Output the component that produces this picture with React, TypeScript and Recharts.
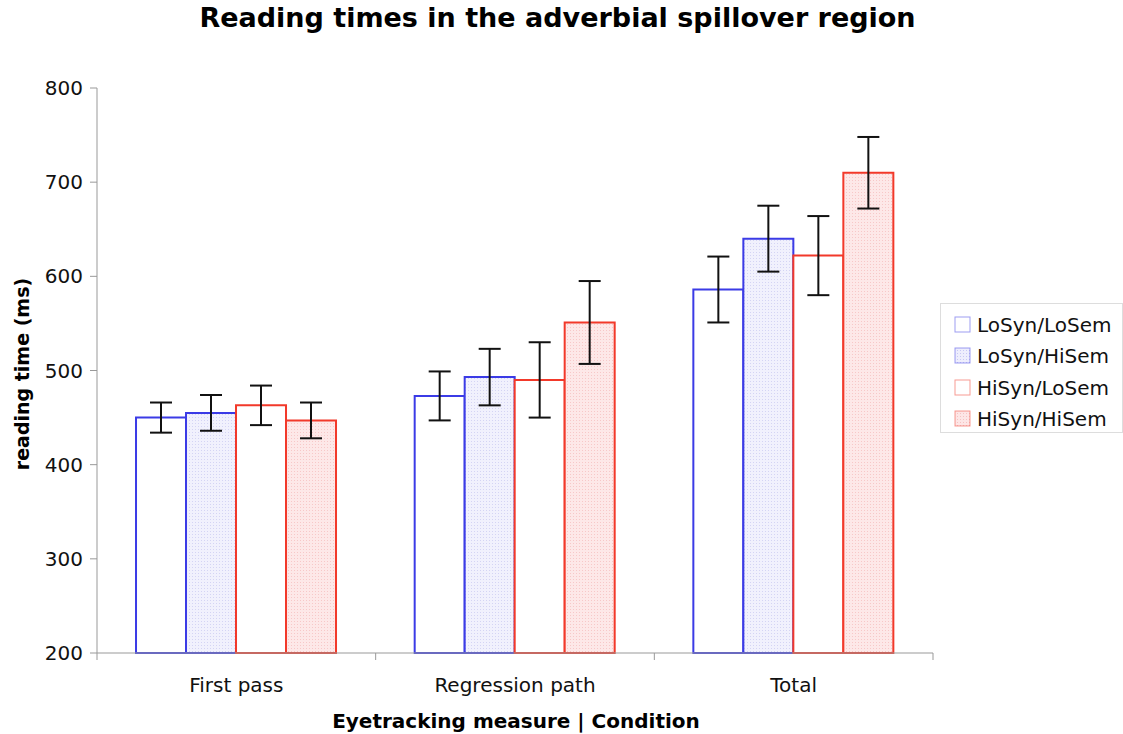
import React from "react";
import { BarChart, Bar, XAxis, YAxis, ErrorBar } from "recharts";

const categories = ["First pass", "Regression path", "Total"];
const seriesNames = ["LoSyn/LoSem", "LoSyn/HiSem", "HiSyn/LoSem", "HiSyn/HiSem"];
const loLoValues = [450, 473, 586];
const loHiValues = [455, 493, 640];
const hiLoValues = [463, 490, 622];
const hiHiValues = [447, 551, 710];
const loLoErr = [16, 26, 35];
const loHiErr = [19, 30, 35];
const hiLoErr = [21, 40, 42];
const hiHiErr = [19, 44, 38];
const yTicks = [200, 300, 400, 500, 600, 700, 800];

const BLUE = "#3b3be6";
const RED = "#f2392a";
const seriesStyles = [
  { stroke: BLUE, fill: "#ffffff" },
  { stroke: BLUE, fill: "url(#dotBlue)" },
  { stroke: RED, fill: "#ffffff" },
  { stroke: RED, fill: "url(#dotRed)" },
];

const valueArrays = [loLoValues, loHiValues, hiLoValues, hiHiValues];
const errArrays = [loLoErr, loHiErr, hiLoErr, hiHiErr];

const data = categories.map((c, i) => {
  const row: any = { name: c };
  seriesNames.forEach((s, j) => {
    row["v" + j] = valueArrays[j][i];
    row["e" + j] = errArrays[j][i];
  });
  return row;
});

const FONT = "'DejaVu Sans', Verdana, sans-serif";

const XTick = (props: any) => {
  const { x, y, payload, index, width } = props;
  const half = width / (2 * categories.length);
  return (
    <g>
      <line x1={x - half} x2={x - half} y1={y - 8} y2={y - 1} stroke="#999" />
      {index === categories.length - 1 && (
        <line x1={x + half} x2={x + half} y1={y - 8} y2={y - 1} stroke="#999" />
      )}
      <text x={x} y={y + 31} textAnchor="middle" fontSize={20} fill="#111" fontFamily={FONT}>
        {payload.value}
      </text>
    </g>
  );
};

export default function App() {
  return (
    <div style={{ position: "absolute", left: 0, top: 0, width: 1123, height: 734, background: "#fff", fontFamily: FONT }}>
      <div style={{ position: "absolute", left: 0, width: 1115, top: 2, textAlign: "center", fontSize: 27, fontWeight: "bold", color: "#000" }}>
        Reading times in the adverbial spillover region
      </div>
      <div style={{ position: "absolute", left: 0, width: 1032, top: 709, textAlign: "center", fontSize: 20, fontWeight: "bold", color: "#000" }}>
        Eyetracking measure | Condition
      </div>
      <div style={{ position: "absolute", left: 22, top: 374, transform: "translate(-50%, -50%) rotate(-90deg)", whiteSpace: "nowrap", fontSize: 19, fontWeight: "bold", color: "#000" }}>
        reading time (ms)
      </div>
      <div style={{ position: "absolute", left: 940, top: 303, width: 183, height: 130, border: "1px solid #ddd", boxSizing: "border-box", padding: "5px 0 0 13px" }}>
        {seriesNames.map((s, j) => (
          <div key={s} style={{ display: "flex", alignItems: "center", height: 31.5, fontSize: 20, color: "#111" }}>
            <svg width={18} height={18} style={{ marginRight: 5 }}>
              <rect x={1} y={1} width={15} height={15} stroke={seriesStyles[j].stroke} strokeOpacity={0.5} fill={j % 2 === 1 ? seriesStyles[j].fill.replace("dot", "lgdot") : "#fff"} />
              <defs>
                <pattern id={"lgdotBlue"} width={3} height={3} patternUnits="userSpaceOnUse">
                  <rect width={3} height={3} fill="#eeeefd" />
                  <rect width={1} height={1} fill="#c8c8f4" />
                </pattern>
                <pattern id={"lgdotRed"} width={3} height={3} patternUnits="userSpaceOnUse">
                  <rect width={3} height={3} fill="#fde6e6" />
                  <rect width={1} height={1} fill="#f6c2c2" />
                </pattern>
              </defs>
            </svg>
            {s}
          </div>
        ))}
      </div>
      <div style={{ position: "absolute", left: 0, top: 0 }}>
        <BarChart
          width={1123}
          height={734}
          data={data}
          margin={{ top: 88, right: 190, bottom: 51, left: 37 }}
          barCategoryGap="14%"
          barGap={0}
        >
          <defs>
            <pattern id="dotBlue" width={3} height={3} patternUnits="userSpaceOnUse">
              <rect width={3} height={3} fill="#f1f1fd" />
              <rect width={1} height={1} fill="#d4d4f4" />
            </pattern>
            <pattern id="dotRed" width={3} height={3} patternUnits="userSpaceOnUse">
              <rect width={3} height={3} fill="#fde8e8" />
              <rect width={1} height={1} fill="#f7c8c8" />
            </pattern>
          </defs>
          <XAxis
            dataKey="name"
            stroke="#999"
            tickLine={false}
            tick={<XTick />}
            interval={0}
          />
          <YAxis
            domain={[200, 800]}
            ticks={yTicks}
            width={60}
            stroke="#999"
            tickSize={7}
            tick={{ fontSize: 20, fill: "#111", fontFamily: FONT }}
            tickMargin={7}
          />
          {seriesNames.map((s, j) => (
            <Bar
              key={s}
              dataKey={"v" + j}
              name={s}
              fill={seriesStyles[j].fill}
              stroke={seriesStyles[j].stroke}
              strokeWidth={2}
              isAnimationActive={false}
            >
              <ErrorBar dataKey={"e" + j} width={11} stroke="#111" strokeWidth={2} />
            </Bar>
          ))}
        </BarChart>
      </div>
    </div>
  );
}
